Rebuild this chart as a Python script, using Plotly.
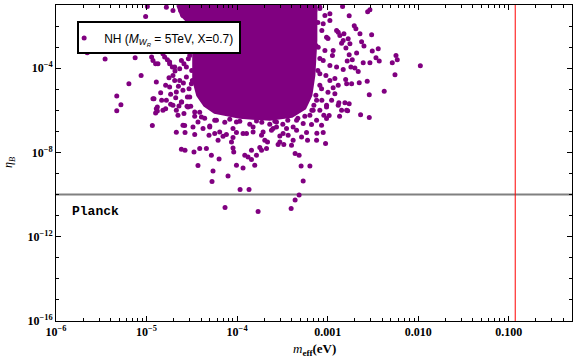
import plotly.graph_objects as go

# log10 of m_eff (eV) and eta_B for the individually visible points
meff_exp = [
    # left wing
    -5.655, -5.458, -5.126, -4.944, -4.900, -5.195, -5.060, -5.329, -5.283, -5.329,
    -4.918, -4.844, -4.789, -4.881, -4.789, -5.010, -4.991, -4.623, -4.538, -4.770,
    -4.745, -4.715, -4.686, -4.634, -4.587, -4.538, -4.752, -4.689, -4.648, -4.593,
    -4.531, -4.734, -4.678, -4.612, -4.549, -4.512, -4.734, -4.671, -4.587, -4.501,
    -4.494, -4.833, -4.900, -4.892,
    # left fringe of the dense cloud
    -4.929, -4.874, -4.800, -4.745, -4.689, -4.615, -4.560, -4.708, -4.634, -4.560,
    -4.505, -4.745, -4.671, -4.598, -4.523, -4.781, -4.708, -4.615, -4.542, -4.892,
    -4.819, -4.929, -4.468, -4.394, -4.598, -4.487, -4.819, -4.523, -4.487, -4.781,
    -4.708, -4.598,
    # lower tail
    -4.936, -4.671, -4.575, -4.579, -4.653, -4.881, -4.642, -4.553, -4.468, -4.432,
    -4.468, -4.615, -4.575, -4.476, -4.413, -4.339, -4.310, -4.247, -4.432, -4.266,
    -4.277, -4.100, -4.199, -4.284, -4.045, -4.037, -4.007, -3.934, -3.915, -3.879,
    -3.841, -3.805, -3.841, -3.749, -3.730, -3.786, -3.675, -3.664, -3.967, -3.868,
    -4.133, -3.768, -3.403, -3.359, -3.315, -3.270, -3.293, -3.196, -3.315, -3.359,
    -3.399, -3.484, -3.547, -3.381, -3.528, -3.436, -3.288, -3.222, -3.233, -3.119,
    -3.049, -3.023, -3.122, -3.067, -3.012, -2.983, -2.868, -2.779, -2.883, -2.809,
    -2.762, -2.636, -2.540, -3.178, -3.122, -3.694, -3.730, -3.823, -3.896, -4.007,
    -4.118, -4.155, -4.210, -4.062, -4.045, -4.302, -4.376, -3.620, -3.565, -3.454,
    -3.343, -3.528,
    # ragged lower edge of the dense cloud
    -4.358, -4.247, -4.136, -3.970, -3.860, -3.727, -3.583, -3.440, -3.329, -3.252,
    -4.413, -4.081, -3.639, -3.495, -4.302, -4.192, -4.045, -3.934, -3.823, -3.713,
    -3.602, -3.492, -3.381, -3.270, -4.228, -4.007, -3.786, -3.565, -3.343, -3.196,
    # right wing
    -2.835, -2.762, -2.558, -2.533, -2.706, -2.688, -2.883, -2.865, -2.820, -2.643,
    -2.514, -2.773, -2.625, -2.599, -2.846, -2.798, -2.754, -2.441, -2.507, -2.680,
    -2.762, -2.728, -2.784, -2.466, -2.430, -2.533, -2.607, -2.245, -2.231, -2.286,
    -1.976, -2.256, -2.662, -2.699, -2.743, -2.828, -2.801, -2.735, -2.651, -2.563,
    -2.375, -2.540, -2.883, -2.939, -2.920, -2.876, -2.956, -3.012, -3.086, -3.042,
    -2.790,
    # right fringe of the dense cloud
    -3.141, -3.086, -3.030, -3.108, -2.975, -3.064, -2.996, -3.130, -3.030, -2.947,
    -3.086, -2.975, -3.108, -3.019, -2.920, -3.086, -2.996, -3.130, -3.064, -3.152,
    -3.174, -3.086, -2.975, -3.049, -2.901, -3.012, -3.104, -2.939, -3.049, -2.901,
    -3.086, -2.975, -3.067, -3.122, -3.012, -2.828, -2.790, -2.846, -3.160,
]
eta_exp = [
    # left wing
    -3.265, -3.569, -3.502, -3.474, -3.787, -4.734, -4.341, -5.322, -5.739, -6.014,
    -5.445, -5.161, -4.815, -5.843, -5.919, -1.545, -1.071, -1.261, -1.133, -3.597,
    -3.787, -3.948, -4.137, -4.024, -3.787, -3.550, -4.450, -4.578, -4.862, -4.706,
    -4.971, -5.241, -5.398, -5.606, -5.369, -5.810, -5.715, -6.000, -6.156, -4.104,
    -4.578, -5.526, -6.128, -4.659,
    # left fringe of the dense cloud
    -3.630, -3.787, -3.474, -3.711, -3.948, -3.630, -3.948, -4.341, -4.578, -4.422,
    -4.734, -4.895, -5.132, -5.052, -5.369, -5.526, -5.763, -5.606, -5.843, -5.919,
    -6.000, -5.445, -6.080, -6.317, -6.711, -6.791, -3.313, -3.393, -3.000, -1.104,
    -1.261, -1.498,
    # lower tail
    -6.725, -7.042, -7.056, -6.725, -6.237, -6.033, -5.796, -5.810, -6.284, -6.554,
    -7.151, -7.848, -7.895, -7.976, -7.815, -7.815, -7.184, -7.104, -8.620, -8.876,
    -9.379, -9.113, -8.308, -8.132, -7.786, -7.976, -8.606, -8.734, -8.132, -8.213,
    -8.336, -8.606, -7.895, -7.767, -7.895, -8.132, -7.815, -7.502, -9.758, -9.758,
    -10.611, -10.800, -10.658, -10.251, -10.014, -9.350, -8.639, -8.639, -8.132, -8.052,
    -7.658, -7.625, -7.625, -7.421, -7.218, -7.184, -7.265, -7.421, -7.056, -7.090,
    -7.056, -7.578, -7.421, -6.711, -6.393, -6.251, -6.284, -6.014, -5.763, -5.635,
    -5.682, -6.204, -6.346, -6.677, -6.474, -7.421, -7.184, -7.028, -7.104, -7.056,
    -7.151, -7.232, -7.421, -7.502, -7.293, -6.744, -6.867, -6.948, -6.791, -6.867,
    -6.948, -7.502,
    # ragged lower edge of the dense cloud
    -6.379, -6.474, -6.569, -6.521, -6.663, -6.569, -6.521, -6.474, -6.379, -6.284,
    -6.094, -6.426, -6.663, -6.663, -6.791, -7.028, -6.867, -7.104, -6.791, -7.028,
    -6.867, -7.104, -6.791, -6.630, -6.474, -6.554, -6.507, -6.554, -6.474, -6.237,
    # right wing
    -1.071, -1.512, -1.322, -1.227, -1.986, -2.128, -2.289, -2.445, -2.365, -2.365,
    -2.412, -2.602, -2.744, -2.952, -2.810, -3.047, -2.839, -3.076, -3.189, -3.284,
    -3.360, -3.597, -3.663, -3.502, -3.663, -3.739, -3.739, -3.393, -3.597, -3.739,
    -3.881, -4.308, -4.151, -3.995, -3.948, -4.057, -4.531, -4.734, -4.687, -4.625,
    -5.099, -5.256, -4.815, -4.924, -5.208, -5.635, -5.526, -5.763, -6.000, -6.237,
    -6.000,
    # right fringe of the dense cloud
    -1.261, -1.166, -1.498, -1.829, -1.735, -2.208, -2.588, -2.919, -3.156, -3.393,
    -3.535, -3.867, -4.104, -4.341, -4.483, -4.815, -5.147, -5.289, -5.526, -5.763,
    -6.000, -1.104, -1.417, -1.891, -2.208, -2.526, -3.000, -3.156, -3.630, -3.948,
    -4.260, -4.578, -4.971, -5.526, -5.843, -2.682, -4.734, -6.000, -6.000,
]

# outline (log10) of the saturated core where the points merge into a solid patch
core_meff_exp = [-4.656, -4.612, -4.501, -4.479, -4.479, -4.435, -4.358, -4.247,
                 -3.970, -3.639, -3.395, -3.252, -3.185, -3.152, -3.130, -3.130, -4.656]
core_eta_exp = [-1.0, -1.498, -1.972, -3.156, -4.578, -5.289, -5.763, -6.094,
                -6.332, -6.426, -6.284, -5.905, -5.289, -4.341, -2.682, -1.0, -1.0]

planck_eta = 1e-10      # horizontal Planck line
meff_bound = 0.118      # vertical bound
x_lim = [1e-6, 0.5]
y_lim = [1e-16, 1e-1]

x_major = [1e-6, 1e-5, 1e-4, 1e-3, 1e-2, 1e-1]
x_major_text = ["10<sup>\u22126</sup>", "10<sup>\u22125</sup>", "10<sup>\u22124</sup>",
                "0.001", "0.010", "0.100"]
y_major = [1e-16, 1e-12, 1e-8, 1e-4]
y_major_text = ["10<sup>\u221216</sup>", "10<sup>\u221212</sup>",
                "10<sup>\u22128</sup>", "10<sup>\u22124</sup>"]

purple = "#800080"

x_minor = [k * 10.0 ** d for d in range(-6, 0) for k in range(2, 10) if k * 10.0 ** d <= 0.5]
y_minor = [10.0 ** d for d in range(-16, 0) if d not in (-16, -12, -8, -4)]

fig = go.Figure()

fig.add_trace(go.Scatter(
    x=x_lim, y=[planck_eta, planck_eta], mode="lines",
    line=dict(color="#808080", width=2), showlegend=False, hoverinfo="skip"))
fig.add_trace(go.Scatter(
    x=[meff_bound, meff_bound], y=y_lim, mode="lines",
    line=dict(color="#ff0000", width=1), showlegend=False, hoverinfo="skip"))

fig.add_trace(go.Scatter(
    x=[10 ** v for v in core_meff_exp], y=[10 ** v for v in core_eta_exp],
    mode="lines", fill="toself", fillcolor=purple,
    line=dict(color=purple, width=3), showlegend=False, hoverinfo="skip"))

fig.add_trace(go.Scatter(
    x=[10 ** v for v in meff_exp], y=[10 ** v for v in eta_exp],
    mode="markers", marker=dict(color=purple, size=5),
    name="NH (<i>M</i><sub><i>W</i><sub><i>R</i></sub></sub> = 5TeV, X=0.7)"))

tickfont = dict(family="Liberation Serif", size=12, color="black", weight="bold")

fig.update_xaxes(
    type="log", range=[-6, -0.30103],
    tickmode="array", tickvals=x_major, ticktext=x_major_text,
    ticks="inside", ticklen=5, tickwidth=1, tickcolor="black",
    showline=True, linecolor="black", linewidth=1, mirror="ticks",
    showgrid=False, zeroline=False, tickfont=tickfont,
    minor=dict(tickmode="array", tickvals=x_minor, ticks="inside",
               ticklen=3, tickcolor="black", showgrid=False))
fig.update_yaxes(
    type="log", range=[-16, -1],
    tickmode="array", tickvals=y_major, ticktext=y_major_text,
    ticks="inside", ticklen=5, tickwidth=1, tickcolor="black",
    showline=True, linecolor="black", linewidth=1, mirror="ticks",
    showgrid=False, zeroline=False, tickfont=tickfont,
    minor=dict(tickmode="array", tickvals=y_minor, ticks="inside",
               ticklen=3, tickcolor="black", showgrid=False))

fig.update_layout(
    width=576, height=363,
    margin=dict(l=56, r=4, t=5, b=42),
    paper_bgcolor="white", plot_bgcolor="white",
    showlegend=True,
    legend=dict(x=0.041, y=0.948, xanchor="left", yanchor="top",
                bgcolor="white", bordercolor="black", borderwidth=2,
                font=dict(family="Liberation Sans", size=12, color="black"),
                itemwidth=30, indentation=-15),
    annotations=[
        dict(text="Planck", xref="paper", yref="paper", x=0.027, y=0.348,
             xanchor="left", yanchor="middle", showarrow=False,
             font=dict(family="Liberation Mono", size=13, color="black", weight="bold")),
        dict(text="<i>m</i><sub><b>eff</b></sub><b>(eV)</b>", xref="paper", yref="paper",
             x=0.5, y=-0.09, xanchor="center", yanchor="middle", showarrow=False,
             font=dict(family="Liberation Serif", size=13, color="black")),
        dict(text="<i>\u03b7</i><sub><i>B</i></sub>", xref="paper", yref="paper",
             x=-0.091, y=0.5, xanchor="center", yanchor="middle", showarrow=False,
             textangle=-90, font=dict(family="Liberation Serif", size=12, color="black")),
    ],
)

# drop the default 8px page margin so the figure sits at the window's corner
fig.write_html("out.html", config={"displayModeBar": False},
               post_script="document.body.style.margin='0';")
